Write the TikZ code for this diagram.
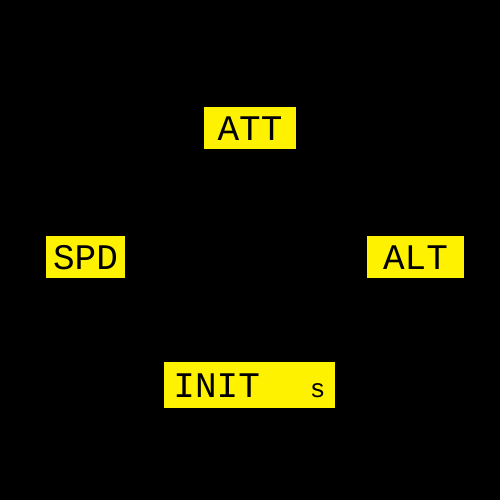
\documentclass[tikz,border=0pt]{standalone}
\usepackage{fontspec}
\setmonofont{Liberation Mono}
\begin{document}
\begin{tikzpicture}[x=0.5pt, y=-0.5pt, font=\ttfamily\fontsize{18}{18}\selectfont,
		panel/.style={fill=yellow, text=black, inner sep=0pt, text height=12pt, text depth=0pt, minimum height=21pt}]
			\fill[black] (0,0) rectangle (500,500);
			\node[panel, minimum width=46pt] (att) at (250,128) {ATT};
			\node[panel, minimum width=39.5pt] (spd) at (85.5,257) {SPD};
			\node[panel, minimum width=48.5pt] (alt) at (415.5,257) {ALT};
			\node[panel, minimum width=85.5pt, minimum height=23pt] (init) at (249.5,385) {INIT\hspace{25pt}{\fontsize{13}{13}\selectfont s}};
		\end{tikzpicture}
\end{document}
